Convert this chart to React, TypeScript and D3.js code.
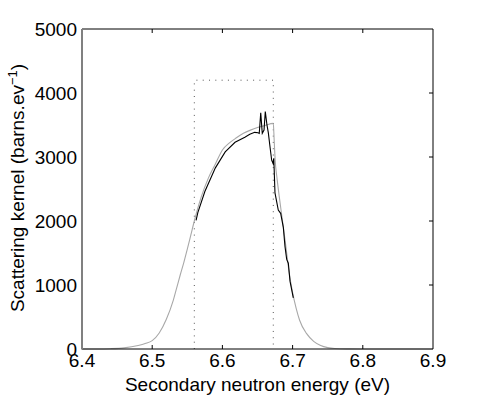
import React, { useRef, useEffect } from 'react';
import * as d3 from 'd3';

// smooth (gray) curve
const grayE = [6.4, 6.42, 6.44, 6.46, 6.48, 6.49, 6.5, 6.51, 6.52, 6.53, 6.535, 6.54, 6.545, 6.55, 6.555, 6.56, 6.565, 6.57, 6.58, 6.59, 6.6, 6.61, 6.62, 6.63, 6.64, 6.65, 6.66, 6.6725, 6.6738, 6.675, 6.678, 6.681, 6.685, 6.69, 6.695, 6.7, 6.705, 6.71, 6.72, 6.73, 6.74, 6.75, 6.76, 6.78, 6.8, 6.9];
const grayV = [0, 1, 5, 18, 55, 85, 130, 250, 460, 760, 960, 1160, 1350, 1560, 1780, 2000, 2200, 2380, 2670, 2890, 3110, 3220, 3300, 3370, 3420, 3460, 3490, 3525, 3250, 2980, 2650, 2380, 2050, 1640, 1200, 880, 640, 450, 240, 120, 55, 22, 8, 2, 0, 0];

// detailed (black) curve
const blackE = [6.5625, 6.565, 6.575, 6.59, 6.604, 6.618, 6.632, 6.639, 6.646, 6.6507, 6.6525, 6.6546, 6.6568, 6.6593, 6.6611, 6.6635, 6.6654, 6.6678, 6.6702, 6.6721, 6.6732, 6.6749, 6.6796, 6.683, 6.6868, 6.6892, 6.6916, 6.6939, 6.6963, 6.701];
const blackV = [2010, 2130, 2460, 2830, 3080, 3230, 3310, 3355, 3385, 3380, 3370, 3690, 3370, 3420, 3710, 3500, 3380, 3160, 2950, 2900, 2980, 2440, 2170, 2120, 1900, 1600, 1400, 1340, 1060, 800];

// dotted box
const boxE = [6.56, 6.6725];
const boxTop = 4200;

const xTicks = [6.4, 6.5, 6.6, 6.7, 6.8, 6.9];
const yTicks = [0, 1000, 2000, 3000, 4000, 5000];

const App = () => {
  const ref = useRef(null);

  useEffect(() => {
    const svg = d3.select(ref.current);
    svg.selectAll('*').remove();

    const left = 82, right = 433, top = 29, bottom = 349;
    const font = 'Liberation Sans, Arial, Helvetica, sans-serif';

    const x = d3.scaleLinear().domain([6.4, 6.9]).range([left, right]);
    const y = d3.scaleLinear().domain([0, 5000]).range([bottom, top]);

    const line = d3.line<[number, number]>()
      .x(d => x(d[0]))
      .y(d => y(d[1]))
      .curve(d3.curveLinear);

    // dotted box
    svg.append('path')
      .attr('d', `M${x(boxE[0])},${y(0)}V${y(boxTop)}H${x(boxE[1])}V${y(0)}`)
      .attr('fill', 'none')
      .attr('stroke', '#555')
      .attr('stroke-width', 1)
      .attr('stroke-dasharray', '1,5.3');

    // curves
    svg.append('path')
      .datum(grayE.map((e, i) => [e, grayV[i]] as [number, number]))
      .attr('d', line.curve(d3.curveMonotoneX))
      .attr('fill', 'none')
      .attr('stroke', '#a8a8a8')
      .attr('stroke-width', 1.1);

    svg.append('path')
      .datum(blackE.map((e, i) => [e, blackV[i]] as [number, number]))
      .attr('d', line.curve(d3.curveLinear))
      .attr('fill', 'none')
      .attr('stroke', '#000')
      .attr('stroke-width', 1.1);

    // frame
    const frame = svg.append('g').attr('stroke-width', 1);
    frame.append('line').attr('x1', left).attr('x2', right).attr('y1', top).attr('y2', top).attr('stroke', '#000');
    frame.append('line').attr('x1', right).attr('x2', right).attr('y1', top).attr('y2', bottom).attr('stroke', '#000');
    frame.append('line').attr('x1', left).attr('x2', right).attr('y1', bottom).attr('y2', bottom).attr('stroke', '#000');
    frame.append('line').attr('x1', left).attr('x2', left).attr('y1', top).attr('y2', bottom + 0.5).attr('stroke', '#808080').attr('stroke-width', 2);

    // ticks (inward)
    xTicks.slice(1, -1).forEach(t => {
      frame.append('line').attr('x1', x(t)).attr('x2', x(t)).attr('y1', bottom).attr('y2', bottom - 4).attr('stroke', '#000');
      frame.append('line').attr('x1', x(t)).attr('x2', x(t)).attr('y1', top).attr('y2', top + 4).attr('stroke', '#000');
    });
    yTicks.slice(1, -1).forEach(t => {
      frame.append('line').attr('x1', right).attr('x2', right - 4).attr('y1', y(t)).attr('y2', y(t)).attr('stroke', '#000');
    });

    // tick labels
    svg.append('g').selectAll('text')
      .data(xTicks)
      .enter()
      .append('text')
      .attr('x', d => x(d))
      .attr('y', 367)
      .attr('text-anchor', 'middle')
      .style('font-family', font)
      .style('font-size', '19px')
      .text(d => d.toFixed(1));

    svg.append('g').selectAll('text')
      .data(yTicks)
      .enter()
      .append('text')
      .attr('x', 77)
      .attr('y', d => y(d) + 6.5)
      .attr('text-anchor', 'end')
      .style('font-family', font)
      .style('font-size', '19px')
      .text(d => String(d));

    // axis labels
    svg.append('text')
      .attr('x', (left + right) / 2)
      .attr('y', 391)
      .attr('text-anchor', 'middle')
      .style('font-family', font)
      .style('font-size', '19px')
      .text('Secondary neutron energy (eV)');

    const yl = svg.append('text')
      .attr('transform', `translate(24, 188) rotate(-90)`)
      .attr('text-anchor', 'middle')
      .style('font-family', font)
      .style('font-size', '19px');
    yl.append('tspan').text('Scattering kernel (barns.ev');
    yl.append('tspan').attr('dy', -7).style('font-size', '13px').text('\u22121');
    yl.append('tspan').attr('dy', 7).text(')');
  }, []);

  return (
    <svg ref={ref} width={478} height={397}
      style={{ position: 'absolute', left: 0, top: 0, background: 'white', display: 'block' }} />
  );
};

export default App;
